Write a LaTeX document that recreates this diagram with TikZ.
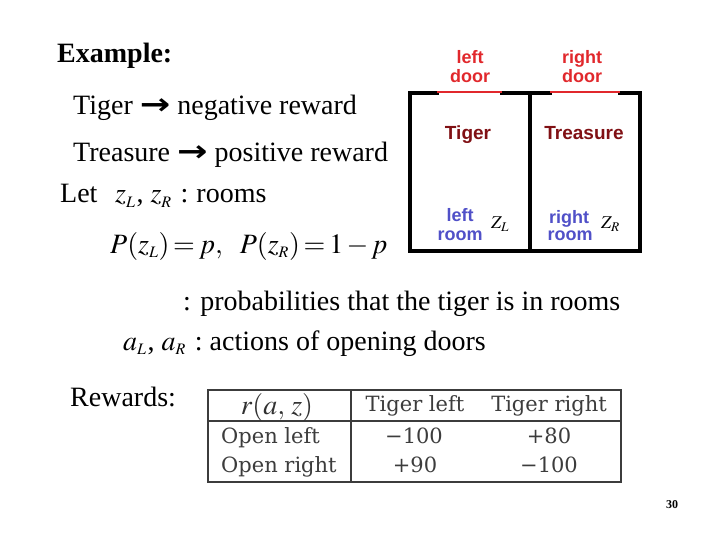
\documentclass[tikz,border=0pt]{standalone}
\usepackage{mathptmx}
\usepackage[no-math]{fontspec}
\usepackage{graphicx}
\setmainfont{Liberation Serif}
\newfontfamily\roomfont{Liberation Sans}
\newfontfamily\tabfont{DejaVu Serif}
\newfontfamily\arrowfont{DejaVu Sans}
\DeclareMathSizes{28}{28}{16}{12}
\definecolor{doorred}{RGB}{225,40,44}
\definecolor{tigerred}{RGB}{128,16,20}
\definecolor{roomblue}{RGB}{80,80,200}
\definecolor{tabgray}{RGB}{60,60,60}
\newcommand{\bigarrow}{{\arrowfont\bfseries\scalebox{1.3}[1.05]{→}}}
\begin{document}
\begin{tikzpicture}[x=1pt,y=-1pt,
  txt/.style={inner sep=0pt,anchor=base west,font=\fontsize{28}{30}\selectfont},
  roomlbl/.style={inner sep=0pt,anchor=base,font=\roomfont\bfseries\fontsize{18}{18}\selectfont},
  tab/.style={inner sep=0pt,anchor=base,text=tabgray,font=\tabfont\fontsize{21}{24}\selectfont},
  wall/.style={line width=3.8pt,line cap=rect,line join=miter},
  tline/.style={draw=tabgray,line width=1.1pt}]
\useasboundingbox (0,0) rectangle (720,540);
% left text
\node[txt,font=\bfseries\fontsize{28}{30}\selectfont] (ex) at (57,63) {Example:};
\node[txt] (t1) at (73,115) {Tiger \bigarrow\ negative reward};
\node[txt] (t2) at (73,162) {Treasure \bigarrow\ positive reward};
\node[txt] (let) at (60,203) {Let};
\node[txt] (rooms) at (115,203) {$z_{L}$\hspace{1pt},\hspace{7pt}$z_{R}$\hspace{9pt}:\hspace{8pt}rooms};
\node[txt] (prob) at (110,253) {\thickmuskip=2.5mu\medmuskip=2mu$P(z_{L})=p,\ \ P(z_{R})=1-p$};
\node[txt] (probtxt) at (183,310) {: probabilities that the tiger is in rooms};
\node[txt] (act) at (123,350) {$a_{L}$\hspace{1pt},\hspace{7pt}$a_{R}$\hspace{9pt}:\hspace{7pt}actions of opening doors};
\node[txt] (rew) at (70,406) {Rewards:};
% rooms
\draw[wall] (437,93) -- (410,93) -- (410,251) -- (640,251) -- (640,93) -- (620,93);
\draw[wall] (502,93) -- (550,93);
\draw[wall] (530,93) -- (530,251);
\draw[doorred,line width=1.8pt] (437,92) -- (502,92);
\draw[doorred,line width=1.8pt] (550,92) -- (620,92);
\node[roomlbl,text=doorred] (ld1) at (470,64) {left};
\node[roomlbl,text=doorred] (ld2) at (470,82.7) {door};
\node[roomlbl,text=doorred] (rd1) at (582,63.3) {right};
\node[roomlbl,text=doorred] (rd2) at (582,82.7) {door};
\node[roomlbl,text=tigerred,font=\roomfont\bfseries\fontsize{19}{19}\selectfont] (tg) at (468,140) {Tiger};
\node[roomlbl,text=tigerred,font=\roomfont\bfseries\fontsize{19}{19}\selectfont] (tr) at (584,140) {Treasure};
\node[roomlbl,text=roomblue] (lr1) at (460,222) {left};
\node[roomlbl,text=roomblue] (lr2) at (460,240.7) {room};
\node[roomlbl,text=roomblue] (rr1) at (569,223) {right};
\node[roomlbl,text=roomblue] (rr2) at (570,240.7) {room};
\node[inner sep=0pt,anchor=base west,font=\fontsize{18}{18}\selectfont] (zl) at (491,229) {$Z_L$};
\node[inner sep=0pt,anchor=base west,font=\fontsize{18}{18}\selectfont] (zr) at (601,229) {$Z_R$};
% table
\draw[tline] (208,390) rectangle (621,482);
\draw[tline] (208,421) -- (621,421);
\draw[tline] (351,390) -- (351,482);
\node[inner sep=0pt,anchor=base,text=tabgray!80!black,font=\fontsize{28}{30}\selectfont] (rz) at (277,414) {$r(a,\,z)$};
\node[tab] (h1) at (415,411) {Tiger left};
\node[tab] (h2) at (549,411) {Tiger right};
\node[tab,anchor=base west] (o1) at (221,443) {Open left};
\node[tab,anchor=base west] (o2) at (221,472) {Open right};
\node[tab] (v11) at (414,443) {−100};
\node[tab] (v12) at (549,443) {+80};
\node[tab] (v21) at (415,472) {+90};
\node[tab] (v22) at (549,472) {−100};
% page number
\node[inner sep=0pt,anchor=base,font=\bfseries\fontsize{12}{12}\selectfont] (pg) at (672,508) {30};
\end{tikzpicture}
\end{document}
